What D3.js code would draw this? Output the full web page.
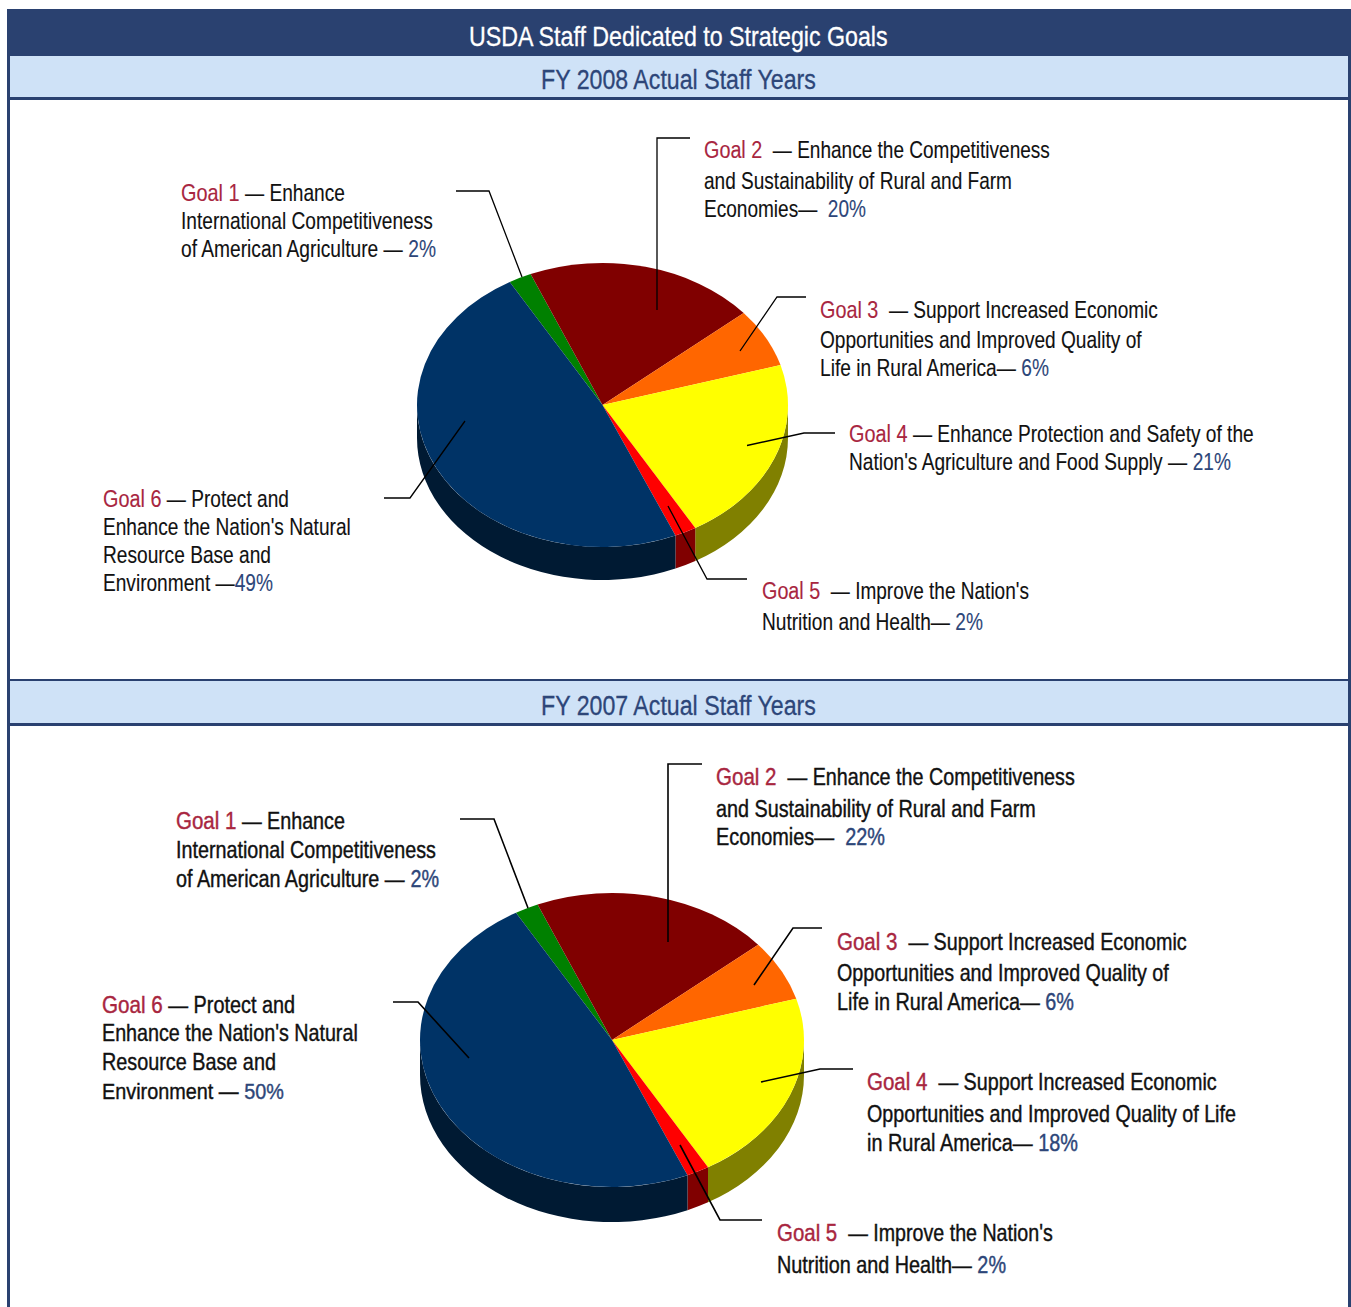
<!DOCTYPE html>
<html>
<head>
<meta charset="utf-8">
<script src="https://cdn.jsdelivr.net/npm/d3@7"></script>
<style>
html, body { margin: 0; padding: 0; background: #fff; }
svg { display: block; }
text { font-family: "Liberation Sans Narrow", "Liberation Sans", Arial, sans-serif; white-space: pre; }
</style>
</head>
<body>
<svg id="chart" width="1351" height="1307"></svg>
<script>
// data
const GOALS = ["Goal 1", "Goal 2", "Goal 3", "Goal 4", "Goal 5", "Goal 6"];
// drawn share of each slice (the printed labels are below)
const SHARES_2008 = [2, 20.1, 6.7, 21.2, 1.9, 48.1];
const SHARES_2007 = [2, 20.1, 6.7, 21.2, 1.9, 48.1];
const TOP_COLORS = ["#008000", "#800000", "#ff6600", "#ffff00", "#ff0000", "#003366"];
const WALL_COLORS = ["#004000", "#400000", "#803300", "#808000", "#800000", "#001a33"];

const TITLE = "USDA Staff Dedicated to Strategic Goals";
const SUBTITLE_2008 = "FY 2008 Actual Staff Years";
const SUBTITLE_2007 = "FY 2007 Actual Staff Years";

// each label: list of lines, each line is [goal text, body text, percent text]
const LABELS_2008 = [
    [["Goal 1", " — Enhance", ""], ["", "International Competitiveness", ""], ["", "of American Agriculture — ", "2%"]],
    [["Goal 2", "  — Enhance the Competitiveness", ""], ["", "and Sustainability of Rural and Farm", ""], ["", "Economies—  ", "20%"]],
    [["Goal 3", "  — Support Increased Economic", ""], ["", "Opportunities and Improved Quality of", ""], ["", "Life in Rural America— ", "6%"]],
    [["Goal 4", " — Enhance Protection and Safety of the", ""], ["", "Nation's Agriculture and Food Supply — ", "21%"]],
    [["Goal 5", "  — Improve the Nation's", ""], ["", "Nutrition and Health— ", "2%"]],
    [["Goal 6", " — Protect and", ""], ["", "Enhance the Nation's Natural", ""], ["", "Resource Base and", ""], ["", "Environment —", "49%"]]
];
const LABELS_2007 = [
    [["Goal 1", " — Enhance", ""], ["", "International Competitiveness", ""], ["", "of American Agriculture — ", "2%"]],
    [["Goal 2", "  — Enhance the Competitiveness", ""], ["", "and Sustainability of Rural and Farm", ""], ["", "Economies—  ", "22%"]],
    [["Goal 3", "  — Support Increased Economic", ""], ["", "Opportunities and Improved Quality of", ""], ["", "Life in Rural America— ", "6%"]],
    [["Goal 4", "  — Support Increased Economic", ""], ["", "Opportunities and Improved Quality of Life", ""], ["", "in Rural America— ", "18%"]],
    [["Goal 5", "  — Improve the Nation's", ""], ["", "Nutrition and Health— ", "2%"]],
    [["Goal 6", " — Protect and", ""], ["", "Enhance the Nation's Natural", ""], ["", "Resource Base and", ""], ["", "Environment — ", "50%"]]
];

// layout of the two panels
const PANEL_2008 = {
    cx: 602.5, cy: 405, rx: 185.5, ry: 142, depth: 33, weight: 0.12, leader_wid: 1.3,
    label_x: [181, 704, 820, 849, 762, 103],
    label_y: [[201, 229, 257], [158, 189, 217], [318, 348, 376], [442, 470], [599, 630], [507, 535, 563, 591]],
    label_end: [[345, 433, 436], [1050, 1012, 866], [1158, 1142, 1049], [1254, 1231], [1029, 983], [289, 351, 271, 273]],
    leaders: [
        [[456, 191], [489, 191], [522, 277]],
        [[690, 138], [657, 138], [657, 310]],
        [[806, 297], [777, 297], [740, 351]],
        [[835, 433], [804, 433], [747, 445.5]],
        [[747, 579], [707, 579], [668, 506]],
        [[384, 498], [410, 498], [465, 421]]
    ]
};
const PANEL_2007 = {
    cx: 612, cy: 1040, rx: 192, ry: 147, depth: 35, weight: 0.4, leader_wid: 1.6,
    label_x: [176, 716, 837, 867, 777, 102],
    label_y: [[829, 858, 887], [785, 817, 845], [950, 981, 1010], [1090, 1122, 1151], [1241, 1273], [1013, 1041, 1070, 1099]],
    label_end: [[345, 436, 439], [1075, 1036, 885], [1187, 1169, 1074], [1217, 1236, 1078], [1053, 1006], [295, 358, 276, 284]],
    leaders: [
        [[460, 819], [494, 819], [528, 908]],
        [[702, 764], [668, 764], [668, 942]],
        [[822, 928], [793, 928], [754, 985]],
        [[853, 1069], [820, 1069], [761, 1082]],
        [[762, 1220], [720, 1220], [680, 1145]],
        [[393, 1002], [418, 1002], [469, 1058]]
    ]
};

const NAVY = "#2a4170";
const LIGHT_BLUE = "#cfe2f7";
const GOAL_COR = "#a8263f";
const BODY_COR = "#111111";
const PERCENT_COR = "#2d4679";
const PART_COLORS = [GOAL_COR, BODY_COR, PERCENT_COR];
const PART_STRETCH = [1.04, 1, 1]; // the red "Goal n" runs a little wider than the rest
const TEXT_SIZE = 23;
const START_ANGLE = -30 * Math.PI / 180;

const SVG = d3.select("#chart");

/** 画表头和边框 **/
function draw_frame() {
    SVG.append("rect").attr("x", 7).attr("y", 9).attr("width", 3).attr("height", 1298).attr("fill", NAVY);
    SVG.append("rect").attr("x", 1348).attr("y", 9).attr("width", 3).attr("height", 1298).attr("fill", NAVY);
    SVG.append("rect").attr("x", 7).attr("y", 9).attr("width", 1344).attr("height", 47).attr("fill", NAVY);
    draw_band(56, 97);
    SVG.append("rect").attr("x", 10).attr("y", 679).attr("width", 1338).attr("height", 2).attr("fill", NAVY);
    draw_band(681, 723);
    draw_centered(TITLE, 45.5, 469, 888, "#ffffff");
    draw_centered(SUBTITLE_2008, 88.5, 541, 816, PERCENT_COR);
    draw_centered(SUBTITLE_2007, 714.5, 541, 816, PERCENT_COR);
}

function draw_band(y0, y1) {
    SVG.append("rect").attr("x", 10).attr("y", y0).attr("width", 1338).attr("height", y1 - y0).attr("fill", LIGHT_BLUE);
    SVG.append("rect").attr("x", 10).attr("y", y1).attr("width", 1338).attr("height", 3).attr("fill", NAVY);
}

function draw_centered(str, y, x0, x1, color) {
    let t = SVG.append("text")
        .text(str)
        .attr("font-size", 27)
        .attr("fill", color)
        .attr("stroke", color)
        .attr("stroke-width", 0.3);
    let ratio = (x1 - x0) / t.node().getComputedTextLength();
    t.attr("transform", `translate(${x0},${y}) scale(${ratio},1)`);
}

/** 画饼图的侧面，只有下半圈看得见 **/
function wall_path(d, p) {
    let a0 = Math.max(d.startAngle, Math.PI / 2);
    let a1 = Math.min(d.endAngle, Math.PI * 1.5);
    if (a0 >= a1) return null;
    let [x0, y0] = [p.rx * Math.sin(a0), -p.ry * Math.cos(a0)];
    let [x1, y1] = [p.rx * Math.sin(a1), -p.ry * Math.cos(a1)];
    return `M${x0},${y0}A${p.rx},${p.ry} 0 0 1 ${x1},${y1}` +
        `L${x1},${y1 + p.depth}A${p.rx},${p.ry} 0 0 0 ${x0},${y0 + p.depth}Z`;
}

/** 画一个饼 **/
function draw_pie(shares, p) {
    let pie = d3.pie().sort(null).startAngle(START_ANGLE).endAngle(START_ANGLE + Math.PI * 2);
    let slices = pie(shares);
    let arc = d3.arc().innerRadius(0).outerRadius(p.rx);
    let g = SVG.append("g").attr("transform", `translate(${p.cx},${p.cy})`);

    g.selectAll("path.wall")
        .data(slices.filter(d => wall_path(d, p)))
        .join("path")
        .attr("class", "wall")
        .attr("d", d => wall_path(d, p))
        .attr("fill", d => WALL_COLORS[d.index]);

    g.append("g")
        .attr("transform", `scale(1,${p.ry / p.rx})`)
        .selectAll("path")
        .data(slices)
        .join("path")
        .attr("d", arc)
        .attr("fill", d => TOP_COLORS[d.index]);
}

/** 画引线 **/
function draw_leaders(p) {
    let line = d3.line();
    for (let pts of p.leaders) {
        SVG.append("path")
            .attr("d", line(pts))
            .attr("fill", "none")
            .attr("stroke", "#000")
            .attr("stroke-width", p.leader_wid);
    }
}

/** 画说明文字，每行按原图的宽度拉伸 **/
function draw_labels(labels, p) {
    labels.forEach((lines, i) => {
        lines.forEach((parts, j) => {
            let x0 = p.label_x[i];
            let y = p.label_y[i][j];
            let nodes = [];
            parts.forEach((str, k) => {
                if (!str) return;
                let t = SVG.append("text")
                    .text(str)
                    .attr("font-size", TEXT_SIZE)
                    .attr("fill", PART_COLORS[k])
                    .attr("stroke", PART_COLORS[k])
                    .attr("stroke-width", p.weight);
                let len = t.node().getComputedTextLength();
                nodes.push({t, len, w: len * PART_STRETCH[k]});
            });
            let ratio = (p.label_end[i][j] - x0) / d3.sum(nodes, d => d.w);
            let x = x0;
            for (let n of nodes) {
                n.t.attr("transform", `translate(${x},${y}) scale(${n.w * ratio / n.len},1)`);
                x += n.w * ratio;
            }
        });
    });
}

draw_frame();
draw_pie(SHARES_2008, PANEL_2008);
draw_pie(SHARES_2007, PANEL_2007);
draw_leaders(PANEL_2008);
draw_leaders(PANEL_2007);
draw_labels(LABELS_2008, PANEL_2008);
draw_labels(LABELS_2007, PANEL_2007);
</script>
</body>
</html>
